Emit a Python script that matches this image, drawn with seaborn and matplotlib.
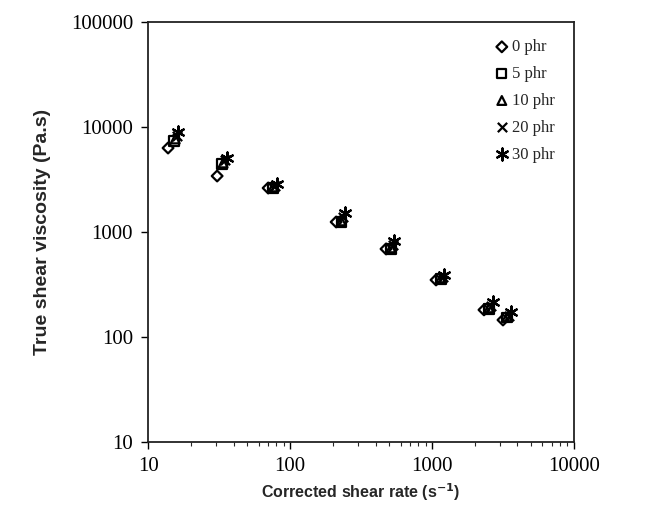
import matplotlib
matplotlib.use('Agg')
import matplotlib.pyplot as plt
import matplotlib.ticker as mticker
import seaborn as sns
import pandas as pd

# Datos (viscosidad vs velocidad de cizalla)
phr_labels = ['0 phr', '5 phr', '10 phr', '20 phr', '30 phr']
shear_0 = [13.8, 30.6, 70.0, 211, 474, 1067, 2323, 3162]
visc_0 = [6310, 3415, 2623, 1245, 689, 349, 181, 145]
shear_5 = [15.2, 33.2, 75.9, 229, 514, 1156, 2518, 3375]
visc_5 = [7360, 4445, 2623, 1245, 689, 357, 185, 152]
shear_10 = [15.5, 33.7, 75.9, 229, 514, 1156, 2518, 3375]
visc_10 = [7690, 4540, 2684, 1274, 705, 365, 189, 155]
shear_20 = [16.0, 34.8, 78.4, 236, 531, 1194, 2600, 3487]
visc_20 = [8200, 4850, 2743, 1390, 752, 373, 197, 158]
shear_30 = [16.3, 36.0, 80.9, 244, 540, 1215, 2690, 3600]
visc_30 = [8960, 5070, 2866, 1518, 821, 389, 215, 173]

shears = [shear_0, shear_5, shear_10, shear_20, shear_30]
viscs = [visc_0, visc_5, visc_10, visc_20, visc_30]

df = pd.concat([pd.DataFrame({'shear': s, 'visc': v, 'phr': lab})
                for s, v, lab in zip(shears, viscs, phr_labels)], ignore_index=True)

# Estilo de marcadores (huecos, en negro)
marker_map = {'0 phr': 'D', '5 phr': 's', '10 phr': '^', '20 phr': 'x', '30 phr': (6, 2, 0)}
size_map = {'0 phr': 30, '5 phr': 45, '10 phr': 40, '20 phr': 45, '30 phr': 75}

sns.set_style('ticks')
fig, ax = plt.subplots(figsize=(6.5, 5.26), dpi=100)

for lab in phr_labels:
    sub = df[df['phr'] == lab]
    m = marker_map[lab]
    if lab in ['20 phr', '30 phr']:
        sns.scatterplot(ax=ax, data=sub, x='shear', y='visc', marker=m, s=size_map[lab],
                        color='black', linewidth=1.6, label=lab)
    else:
        sns.scatterplot(ax=ax, data=sub, x='shear', y='visc', marker=m, s=size_map[lab],
                        facecolors='none', edgecolor='black', linewidth=1.6, label=lab)

ax.set_xscale('log')
ax.set_yscale('log')
ax.set_xlim(10, 10000)
ax.set_ylim(10, 100000)

serif = ['Liberation Serif', 'DejaVu Serif']
ax.xaxis.set_major_formatter(mticker.FuncFormatter(lambda v, p: f'{int(round(v))}'))
ax.yaxis.set_major_formatter(mticker.FuncFormatter(lambda v, p: f'{int(round(v))}'))
ax.yaxis.set_minor_locator(mticker.NullLocator())
for t in ax.get_xticklabels() + ax.get_yticklabels():
    t.set_family(serif)
    t.set_fontsize(15)
ax.tick_params(axis='both', which='major', direction='out', length=5, width=1, colors='black', pad=6)
ax.tick_params(axis='x', which='minor', direction='out', length=3, width=0.8)

for sp in ax.spines.values():
    sp.set_linewidth(1.3)
    sp.set_color('#222222')

ax.set_xlabel('Corrected shear rate (s$^{\\mathbf{-1}}$)', fontsize=11.5, fontweight='bold',
              family='Liberation Sans', labelpad=4)
ax.set_ylabel('True shear viscosity (Pa.s)', fontsize=14, fontweight='bold',
              family='Liberation Sans', labelpad=14)

leg = ax.legend(loc='upper right', bbox_to_anchor=(0.99, 0.995), frameon=False,
                prop={'family': serif, 'size': 12}, handletextpad=0.1,
                labelspacing=0.65, handlelength=1.0)

fig.subplots_adjust(left=0.228, right=0.883, bottom=0.160, top=0.958)
fig.savefig('out.png')
